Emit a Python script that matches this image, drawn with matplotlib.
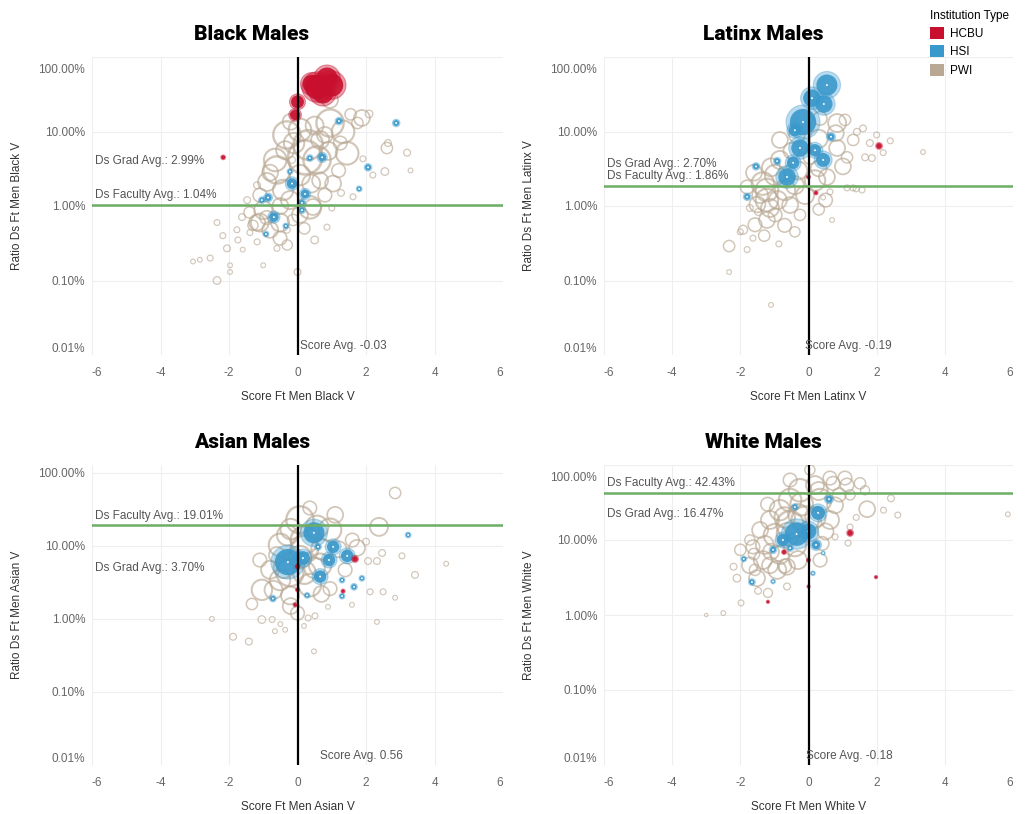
import numpy as np
import matplotlib
matplotlib.use("Agg")
import matplotlib.pyplot as plt
from matplotlib.patches import Patch
import matplotlib.transforms as mtransforms

plt.rcParams['font.family'] = ['Liberation Sans', 'DejaVu Sans']
plt.rcParams['axes.unicode_minus'] = False

RED = '#C8102E'
BLUE = '#3A99CC'
TAN = '#B9A893'
GREEN = '#6BAE64'
GRAY = '#555555'

# ---- Black males ----
black_hcbu_x = [0.57, 1.0, 0.74, 0.86, 0.42, 0.0, -0.07, -2.17]
black_hcbu_y = [39.5, 42, 33, 52, 43.5, 25, 16.7, 4.5]
black_hcbu_n = [80, 70, 60, 60, 45, 22, 14, 2]
black_hsi_x = [1.21, 2.88, 0.72, 0.36, 2.06, 1.8, -0.16, -0.22, 0.22, 0.13, 0.13, -0.86, -1.04, -0.69, -0.34, -0.92]
black_hsi_y = [13.8, 13.0, 4.5, 4.4, 3.3, 1.7, 2.0, 2.9, 1.45, 1.1, 0.88, 1.3, 1.2, 0.71, 0.54, 0.42]
black_hsi_n = [5, 5, 9, 4, 5, 3, 16, 3, 11, 5, 4, 7, 4, 13, 3, 3]
black_pwi_x = [0.95, 1.33, 1.88, 2.09, -0.31, 0.31, 0.22, 1.45, 0.57, -0.6, -0.16, 1.04, 0.36, -1.0, -1.18,
               -0.51, 2.61, 2.64, 3.2, 2.55, 1.91, 1.62, 1.27, 1.0, 0.86, -0.89, -1.18, -1.47, -1.62, -2.35,
               -2.18, -2.06, -3.05, -2.85, -2.55, -1.97, -1.97, -2.35, -1.0, -1.6, -1.74, -1.77, -1.39, -1.18,
               -0.6, -0.51, -1.1, -0.31, 0.0, 0.45, -0.13, -0.8, 0.07, 0.66, 1.25, 0.95, 1.55, 1.75, -0.36,
               -0.65, 0.07, 0.66, -0.42, -1.1, 0.8, -0.22, 0.07, -1.4, 2.2, 3.3,
               0.5, -0.1, 0.9, -0.8, 0.4, -0.5, -0.9, 0.2, 1.2, -0.2, 0.8, -1.3, -0.3, 0.5]
black_pwi_y = [13, 9.9, 15.2, 17.2, 9.0, 6.6, 4.5, 5.1, 4.15, 3.05, 4.15, 2.0, 0.96, 0.88, 0.6,
               0.6, 6.0, 7.0, 5.2, 2.9, 4.3, 1.33, 1.5, 0.94, 0.52, 2.1, 1.9, 1.2, 0.71, 0.6,
               0.4, 0.27, 0.18, 0.19, 0.2, 0.16, 0.13, 0.10, 0.16, 0.26, 0.35, 0.48, 0.44, 0.33,
               0.27, 0.37, 0.6, 0.48, 0.13, 0.97, 0.65, 0.48, 10.5, 7.7, 7.0, 26.5, 17, 13, 5.6,
               4.15, 2.6, 2.2, 1.64, 1.4, 1.4, 1.2, 0.76, 0.82, 2.6, 3.0,
               12, 7, 5.5, 2.8, 2.0, 1.0, 0.7, 0.5, 3.0, 13.5, 9.0, 0.55, 0.3, 0.35]
black_pwi_n = [64, 44, 22, 5, 64, 75, 100, 44, 64, 64, 4, 22, 44, 28, 22,
               28, 11, 4, 4, 5, 3, 3, 4, 3, 3, 28, 4, 4, 4, 3,
               3, 4, 2, 2, 3, 2, 2, 5, 2, 2, 3, 3, 3, 3,
               3, 16, 28, 4, 4, 22, 11, 22, 44, 28, 16, 22, 11, 11, 28,
               44, 36, 22, 36, 16, 16, 28, 22, 11, 3, 2,
               28, 36, 28, 22, 28, 22, 16, 11, 16, 22, 22, 9, 9, 5]

# ---- Latinx males ----
latinx_hcbu_x = [2.07, 0.0, 0.22]
latinx_hcbu_y = [6.4, 2.45, 1.5]
latinx_hcbu_n = [4, 1.5, 1.5]
latinx_hsi_x = [0.54, 0.1, 0.45, -0.16, -0.25, 0.66, 0.19, 0.43, -0.63, -0.45, -0.92, -1.54, -1.8, -0.4]
latinx_hsi_y = [42, 28, 23.4, 13.4, 6.0, 8.5, 5.6, 4.15, 2.45, 3.8, 4.0, 3.4, 1.33, 10.4]
latinx_hsi_n = [64, 44, 44, 100, 44, 7, 22, 28, 44, 22, 5, 5, 5, 22]
latinx_pwi_x = [0.84, -0.84, 1.42, 1.31, 1.8, 1.66, 1.86, 2.19, 1.13, 1.01, 0.84, 0.54, 1.31, 1.57, 1.13,
                -1.34, -1.22, -1.22, -1.13, -1.22, -1.92, -2.0, -2.33, -1.8, -1.63, -0.87, 0.69, 0.43, 0.63,
                1.4, 3.36, -1.72, -1.48, -1.1, -2.33, -0.98, -0.69, -0.4, -0.84, -0.54, -0.1, 0.19, 0.5,
                -1.42, -1.57, -0.98, -0.34, 1.07, 0.34, -0.25, 0.05, 2.4, 1.6, 2.0,
                -1.6, -1.1, -0.3, 0.3, -0.7, -1.3, -0.4, 0.3, -1.8, 0.8, 0.3, -0.5, -1.5, -0.9]
latinx_pwi_y = [13, 7.7, 9.9, 7.7, 7.0, 4.5, 4.4, 5.2, 4.5, 3.4, 6.0, 2.45, 1.75, 1.64, 1.75,
                2.0, 1.2, 1.64, 0.94, 0.65, 0.48, 0.45, 0.29, 0.26, 0.37, 0.31, 0.65, 1.3, 1.55,
                1.7, 5.3, 0.94, 0.83, 0.047, 0.13, 2.6, 1.64, 1.9, 4.15, 1.03, 1.4, 2.2, 1.2,
                1.4, 0.56, 0.76, 9.0, 14.3, 15, 0.76, 4.5, 7.5, 11, 9,
                2.8, 3.3, 3.0, 3.2, 0.55, 0.4, 0.45, 0.9, 1.8, 9.5, 8, 5.5, 1.05, 1.2]
latinx_pwi_n = [28, 22, 4, 11, 4, 4, 4, 3, 11, 22, 22, 22, 3, 3, 3,
                44, 44, 44, 28, 22, 7, 3, 11, 3, 3, 3, 2, 2, 3,
                3, 2, 4, 4, 2, 2, 36, 36, 28, 28, 22, 28, 36, 16,
                22, 16, 16, 22, 11, 16, 11, 16, 3, 4, 3,
                22, 28, 28, 22, 16, 11, 9, 11, 16, 22, 28, 22, 22, 28]

# ---- Asian males ----
asian_hcbu_x = [1.68, 0.0, 1.33, 0.0, -0.07]
asian_hcbu_y = [6.6, 5.2, 2.4, 2.5, 1.56]
asian_hcbu_n = [4, 2, 1.5, 1.5, 1.5]
asian_hsi_x = [-0.28, 0.48, 0.16, 1.04, 0.92, 1.45, 0.66, 0.6, 3.23, 1.88, 1.65, 1.3, 1.3, 0.28, -0.72]
asian_hsi_y = [6.0, 15.1, 6.8, 9.7, 6.4, 7.3, 3.8, 9.7, 14.1, 3.6, 2.75, 3.4, 2.05, 2.1, 1.9]
asian_hsi_n = [100, 64, 28, 22, 22, 22, 22, 4, 3, 3, 4, 3, 3, 3, 4]
asian_pwi_x = [2.85, 2.38, 1.74, 0.57, -0.22, -1.33, -1.04, 2.47, 2.32, 2.06, 3.05, 3.43, 2.85, 2.12, 2.5,
               2.32, 1.59, 0.51, 0.31, 0.89, -0.74, -2.5, -1.88, -1.42, 0.48, 4.34, -0.66, -0.36, -0.5,
               0.19, 2.0, 0.07, 0.95, -0.51, 0.2, 0.66, -0.51, 0.36, -0.22, -0.8, 1.39, -1.1, 0.95,
               -1.04, 0.07, 1.1, 0.36, -0.3, 1.6, -0.6,
               0.2, -0.2, 0.7, -0.7, 0.2, 0.7, -0.2, 0.0, -0.4, 1.2, 0.5]
asian_pwi_y = [53, 18.2, 9.4, 18.2, 4.3, 1.6, 0.98, 8.0, 6.2, 6.2, 7.3, 4.0, 1.95, 2.35, 2.35,
               0.91, 1.56, 1.1, 1.03, 1.46, 0.98, 1.0, 0.57, 0.49, 0.36, 5.7, 0.68, 0.71, 0.85,
               0.8, 11.4, 22.7, 16.6, 10.3, 12, 5.5, 3.4, 2.9, 2.1, 4.7, 4.7, 6.4, 2.6,
               2.5, 7, 26.6, 33, 14, 12, 7.5,
               9, 17, 9, 2.5, 4.3, 2.2, 1.5, 1.2, 5.0, 9, 5]
asian_pwi_n = [11, 28, 22, 44, 64, 11, 5, 4, 4, 4, 3, 4, 2, 3, 3,
               2, 2, 3, 3, 2, 3, 2, 4, 4, 2, 2, 2, 2, 2,
               2, 4, 64, 44, 44, 64, 44, 36, 44, 28, 28, 16, 16, 16,
               36, 44, 22, 16, 36, 16, 22,
               64, 36, 36, 28, 44, 22, 22, 16, 36, 22, 36]

# ---- White males ----
white_hcbu_x = [1.22, -0.72, 0.0, 0.0, 1.98, -1.19]
white_hcbu_y = [12.4, 6.9, 5.4, 2.4, 3.2, 1.5]
white_hcbu_n = [4, 2, 1.5, 1, 1, 1]
white_hsi_x = [0.6, -0.4, 0.28, -0.35, 0.0, 0.22, -1.04, -0.54, 0.43, -1.9, -1.66, -1.04, 0.13, -0.75]
white_hsi_y = [35, 27.5, 23, 12, 13, 8.6, 7.4, 7.8, 6.7, 5.6, 2.75, 2.8, 3.6, 10]
white_hsi_n = [7, 4, 28, 80, 36, 11, 5, 4, 1.5, 3, 4, 2, 2, 22]
white_pwi_x = [1.72, 2.42, 2.62, 1.22, 0.78, 1.16, 1.13, 0.72, -1.51, -1.72, -2.0, -2.2, -1.98, -2.5, -1.19,
               -1.48, -0.63, -0.92, -0.63, -0.31, -1.34, -1.63, 0.34, -1.13, -0.84, -0.54, -0.25, 0.19,
               0.63, 1.07, 1.51, -0.1, -0.54, -0.98, -1.28, 0.34, 0.78, 0.63, -1.42, -0.4, -0.84, -1.13,
               -1.57, -0.54, 0.04, 1.22, 1.66, -1.72, 5.85, -3.0, 2.2, 1.4,
               -0.2, 0.3, -0.7, 0.9, -1.2, -0.3, 0.2, -0.6, -1.1, -0.7, 0.4, 0.5, -1.6, -2.1]
white_pwi_y = [25.8, 36, 21.5, 14.9, 11, 9.1, 54, 57, 3.1, 4.6, 7.4, 4.4, 1.45, 1.06, 1.97,
               2.1, 2.4, 4.0, 4.4, 5.4, 5.4, 8.1, 5.4, 18.5, 25, 34, 46, 54,
               67, 67, 57, 18.5, 16, 11.6, 8.6, 34, 29, 18.5, 13.6, 8.6, 6.3, 4.6,
               4.0, 63, 86, 40, 46, 10, 22, 1.0, 25, 20,
               30, 45, 20, 40, 30, 22, 20, 12, 7, 4.5, 9, 13, 6.5, 3.1]
white_pwi_n = [22, 4, 3, 3, 3, 3, 16, 16, 22, 22, 11, 4, 3, 2, 7,
               4, 4, 28, 22, 28, 28, 16, 16, 28, 36, 44, 44, 28,
               16, 16, 11, 64, 64, 44, 28, 44, 22, 28, 22, 44, 28, 22,
               11, 16, 9, 9, 7, 9, 2, 1, 3, 3,
               44, 28, 36, 16, 16, 36, 36, 44, 22, 16, 16, 22, 11, 5]

titles = ['Black Males', 'Latinx Males', 'Asian Males', 'White Males']
groups = ['Black', 'Latinx', 'Asian', 'White']
grad_avg = [2.99, 2.70, 3.70, 16.47]
faculty_avg = [1.04, 1.86, 19.01, 42.43]
score_avg = [-0.03, -0.19, 0.56, -0.18]

x_ticks = [-6, -4, -2, 0, 2, 4, 6]
y_ticks = [0.01, 0.1, 1, 10, 100]
y_tick_labels = ['0.01%', '0.10%', '1.00%', '10.00%', '100.00%']

points = [
    [(black_pwi_x, black_pwi_y, black_pwi_n), (black_hsi_x, black_hsi_y, black_hsi_n),
     (black_hcbu_x, black_hcbu_y, black_hcbu_n)],
    [(latinx_pwi_x, latinx_pwi_y, latinx_pwi_n), (latinx_hsi_x, latinx_hsi_y, latinx_hsi_n),
     (latinx_hcbu_x, latinx_hcbu_y, latinx_hcbu_n)],
    [(asian_pwi_x, asian_pwi_y, asian_pwi_n), (asian_hsi_x, asian_hsi_y, asian_hsi_n),
     (asian_hcbu_x, asian_hcbu_y, asian_hcbu_n)],
    [(white_pwi_x, white_pwi_y, white_pwi_n), (white_hsi_x, white_hsi_y, white_hsi_n),
     (white_hcbu_x, white_hcbu_y, white_hcbu_n)],
]

W, H = 1029, 814
DPI = 100
fig = plt.figure(figsize=(W / DPI, H / DPI), dpi=DPI)

# panel boxes in pixels: left, top, right, bottom
boxes = [(92, 57, 503, 355), (604, 57, 1013, 355), (92, 465, 503, 765), (604, 465, 1013, 765)]
y_tops = [100, 100, 128, 100]


def size_to_s(n):
    # bubble area ~ enrolment
    return 6.0 * np.asarray(n, dtype=float)


for i, (l, t, r, b) in enumerate(boxes):
    ax = fig.add_axes([l / W, 1 - b / H, (r - l) / W, (b - t) / H])
    ax.set_yscale('log')
    ax.set_xlim(-6, 6)
    ax.set_ylim(0.01 / 100, y_tops[i] / 100)
    for s in ax.spines.values():
        s.set_visible(False)
    ax.set_xticks(x_ticks)
    xl = ax.set_xticklabels([str(v) for v in x_ticks])
    ax.set_yticks([v / 100 for v in y_ticks])
    yl = ax.set_yticklabels(y_tick_labels)
    ax.minorticks_off()
    ax.tick_params(length=0, labelsize=8.5, labelcolor='#666666')
    ax.tick_params(axis='x', pad=9)
    ax.tick_params(axis='y', pad=5)
    xl[0].set_horizontalalignment('left')
    xl[-1].set_horizontalalignment('right')
    yl[0].set_verticalalignment('bottom')
    if y_tops[i] == 100:
        yl[-1].set_verticalalignment('top')
        yl[-1].set_transform(yl[-1].get_transform()
                             + mtransforms.ScaledTranslation(0, -5 / 72, fig.dpi_scale_trans))
    ax.grid(True, color='#EEEEEE', linewidth=0.8)
    ax.set_axisbelow(True)

    (px, py, pn), (hx, hy, hn), (cx, cy, cn) = points[i]
    pn = np.asarray(pn, dtype=float)
    ax.scatter(px, np.asarray(py) / 100, s=size_to_s(pn), facecolors='none', edgecolors=TAN,
               linewidths=0.6 + 0.14 * np.sqrt(pn), alpha=0.65, zorder=2)
    # HSI: halo + solid core + white centre
    ax.scatter(hx, np.asarray(hy) / 100, s=size_to_s(hn), facecolors=BLUE, edgecolors=BLUE,
               linewidths=0.8, alpha=0.35, zorder=3)
    ax.scatter(hx, np.asarray(hy) / 100, s=size_to_s(hn) * 0.6, facecolors=BLUE, edgecolors='none',
               alpha=0.9, zorder=3)
    ax.scatter(hx, np.asarray(hy) / 100, s=2.0, facecolors='white', edgecolors='none', zorder=3)
    # HCBU
    ax.scatter(cx, np.asarray(cy) / 100, s=size_to_s(cn), facecolors=RED, edgecolors=RED,
               linewidths=0.8, alpha=0.4, zorder=4)
    ax.scatter(cx, np.asarray(cy) / 100, s=size_to_s(cn) * 0.65, facecolors=RED, edgecolors='none',
               alpha=0.9, zorder=4)

    ax.axvline(0, color='black', linewidth=1.6, zorder=5)
    ax.axhline(faculty_avg[i] / 100, color=GREEN, linewidth=1.8, zorder=5)

    up = mtransforms.offset_copy(ax.transData, fig=fig, x=2.5, y=2.5, units='points')
    ax.text(-6, grad_avg[i] / 100, f'Ds Grad Avg.: {grad_avg[i]:.2f}%', transform=up,
            ha='left', va='bottom', fontsize=8.5, color=GRAY, zorder=6)
    ax.text(-6, faculty_avg[i] / 100, f'Ds Faculty Avg.: {faculty_avg[i]:.2f}%', transform=up,
            ha='left', va='bottom', fontsize=8.5, color=GRAY, zorder=6)
    ax.text(score_avg[i], 0.01 / 100, f'Score Avg. {score_avg[i]:.2f}', transform=up,
            ha='left', va='bottom', fontsize=8.5, color=GRAY, zorder=6)

    cxp = (l + r) / 2
    fig.text(cxp / W, 1 - (b + 42) / H, f'Score Ft Men {groups[i]} V', ha='center', va='center',
             fontsize=8.5, color='#333333')
    fig.text((l - 75) / W, 1 - ((t + b) / 2) / H, f'Ratio Ds Ft Men {groups[i]} V', ha='center',
             va='center', rotation=90, fontsize=8.5, color='#333333')
    title_x = 252 if i % 2 == 0 else 763
    title_y = 35 if i < 2 else 442
    fig.text(title_x / W, 1 - title_y / H, titles[i], ha='center', va='center', fontsize=15,
             fontweight='black', family=['Roboto', 'DejaVu Sans'], color='black')

handles = [Patch(facecolor=RED, edgecolor='none', label='HCBU'),
           Patch(facecolor=BLUE, edgecolor='none', label='HSI'),
           Patch(facecolor=TAN, edgecolor='none', label='PWI')]
fig.legend(handles=handles, title='Institution Type', loc='upper left',
           bbox_to_anchor=(925 / W, 1 - 5 / H), frameon=False, fontsize=8.5, title_fontsize=8.5,
           handlelength=1.2, handleheight=1.2, handletextpad=0.5, labelspacing=0.45,
           alignment='left', borderaxespad=0)

fig.savefig('out.png', dpi=DPI)
